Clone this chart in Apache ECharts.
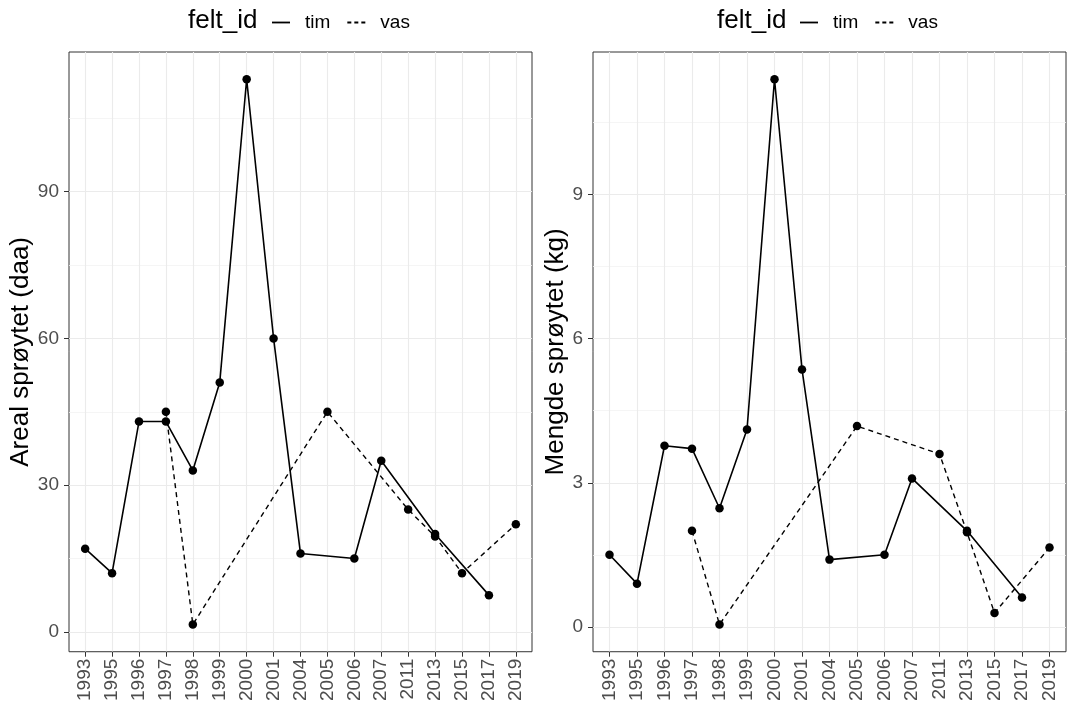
<!DOCTYPE html>
<html>
<head>
<meta charset="utf-8">
<script src="https://cdn.jsdelivr.net/npm/echarts@6/dist/echarts.min.js"></script>
<style>html,body{margin:0;padding:0;background:#fff}#c{width:1067px;height:704px}</style>
</head>
<body>
<div id="c"></div>
<script>
// ---- data ----
const years = ['1993','1995','1996','1997','1998','1999','2000','2001','2004','2005','2006','2007','2011','2013','2015','2017','2019'];
const arealTim  = [17, 12, 43, 43, 33, 51, 113, 60, 16, null, 15, 35, null, 20, null, 7.5, null];
const arealVas  = [null, null, null, 45, 1.5, null, null, null, null, 45, null, null, 25, 19.5, 12, null, 22];
const mengdeTim = [1.5, 0.9, 3.77, 3.71, 2.47, 4.11, 11.4, 5.36, 1.4, null, 1.5, 3.09, null, 2.0, null, 0.61, null];
const mengdeVas = [null, null, null, 2.0, 0.05, null, null, null, null, 4.18, null, null, 3.6, 1.97, 0.29, null, 1.65];
const arealTicks  = [0, 30, 60, 90];
const arealMinor  = [15, 45, 75, 105];
const mengdeTicks = [0, 3, 6, 9];
const mengdeMinor = [1.5, 4.5, 7.5, 10.5];
const groupNames = ['tim', 'vas'];
const legendTitle = 'felt_id';
const arealTitle = 'Areal sprøytet (daa)';
const mengdeTitle = 'Mengde sprøytet (kg)';

// ---- helpers ----
const FONT = '"Liberation Sans", Arial, sans-serif';
function pairs(vals) {
  const out = [];
  vals.forEach((v, i) => { if (v !== null) out.push([i, v]); });
  return out;
}
function expand(a, b) {
  const all = a.concat(b).filter(v => v !== null);
  const lo = Math.min(...all), hi = Math.max(...all);
  const pad = (hi - lo) * 0.05;
  return [lo - pad, hi + pad];
}
const xIdx = years.map((_, i) => i);

const panels = [
  { left: 69, width: 463, ticks: arealTicks, minor: arealMinor, title: arealTitle, nameGap: 32,
    tim: arealTim, vas: arealVas, legendLeft: 267, titleLeft: 188 },
  { left: 593, width: 473, ticks: mengdeTicks, minor: mengdeMinor, title: mengdeTitle, nameGap: 22,
    tim: mengdeTim, vas: mengdeVas, legendLeft: 795, titleLeft: 717 }
];

const grid = [], xAxis = [], yAxis = [], series = [], legend = [], title = [];
panels.forEach((p, k) => {
  const [ymin, ymax] = expand(p.tim, p.vas);
  grid.push({ left: p.left, top: 52, width: p.width, height: 601, show: true,
    borderColor: '#333333', borderWidth: 1, backgroundColor: '#fff' });
  xAxis.push({
    type: 'value', gridIndex: k, min: -0.6, max: 16.6, position: 'bottom',
    axisLine: { show: false, onZero: false },
    axisTick: { show: true, length: 5, lineStyle: { color: '#333333', width: 1 }, customValues: xIdx },
    axisLabel: { show: true, customValues: xIdx, rotate: 90, margin: 7, fontSize: 19, color: '#4D4D4D', fontFamily: FONT,
      formatter: v => years[Math.round(v)] },
    splitLine: { show: true, lineStyle: { color: '#EBEBEB', width: 1.1 } }
  });
  yAxis.push({
    type: 'value', gridIndex: k, min: ymin, max: ymax, position: 'left',
    name: p.title, nameLocation: 'middle', nameRotate: 90, nameGap: p.nameGap,
    nameTextStyle: { fontSize: 26, color: '#000', fontFamily: FONT },
    axisLine: { show: false, onZero: false },
    axisTick: { show: true, length: 5, lineStyle: { color: '#333333', width: 1 }, customValues: p.ticks },
    axisLabel: { show: true, customValues: p.ticks, margin: 10, fontSize: 19, color: '#4D4D4D', fontFamily: FONT },
    splitLine: { show: true, lineStyle: { color: '#EBEBEB', width: 1.1 } }
  });
  yAxis.push({
    type: 'value', gridIndex: k, min: ymin, max: ymax, position: 'left',
    axisLine: { show: false, onZero: false },
    axisTick: { show: false, customValues: p.minor },
    axisLabel: { show: false, customValues: p.minor },
    splitLine: { show: true, lineStyle: { color: '#F2F2F2', width: 0.8 } }
  });
  series.push({
    type: 'line', name: groupNames[0], xAxisIndex: k, yAxisIndex: 2 * k,
    data: pairs(p.tim), symbol: 'circle', symbolSize: 8.5, animation: false,
    itemStyle: { color: '#000' }, lineStyle: { color: '#000', width: 1.6, type: 'solid' }, z: 3
  });
  series.push({
    type: 'line', name: groupNames[1], xAxisIndex: k, yAxisIndex: 2 * k,
    data: pairs(p.vas), symbol: 'circle', symbolSize: 8.5, animation: false,
    itemStyle: { color: '#000' }, lineStyle: { color: '#000', width: 1.4, type: [5, 4] }, z: 3
  });
  legend.push({
    left: p.legendLeft, top: 8, orient: 'horizontal', selectedMode: false,
    itemWidth: 18, itemHeight: 2, itemGap: 17,
    textStyle: { fontSize: 19, color: '#000', fontFamily: FONT, padding: [0, 0, 0, 10] },
    data: [
      { name: groupNames[0], icon: 'path://M0 0H20V2H0Z' },
      { name: groupNames[1], icon: 'path://M0 0H4V2H0Z M7 0H11V2H7Z M14 0H18V2H14Z' }
    ]
  });
  title.push({ text: legendTitle, left: p.titleLeft, top: 8, padding: 0,
    textStyle: { fontSize: 26, fontWeight: 'normal', color: '#000', fontFamily: FONT } });
});

const chart = echarts.init(document.getElementById('c'), null, { renderer: 'canvas' });
chart.setOption({ animation: false, backgroundColor: '#fff', title, legend, grid, xAxis, yAxis, series });
</script>
</body>
</html>
